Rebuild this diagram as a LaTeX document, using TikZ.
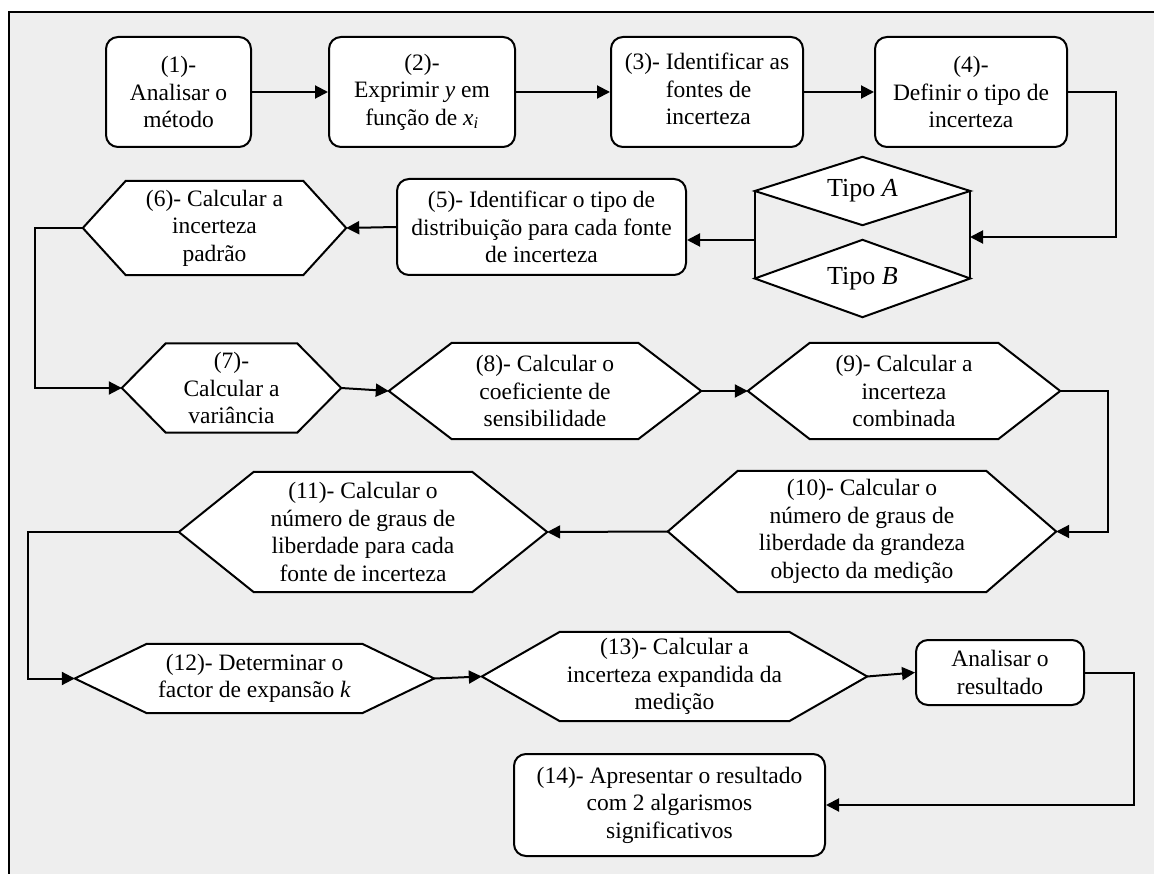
\documentclass[tikz,border=0pt]{standalone}
\usepackage{fontspec}
\setmainfont{Liberation Serif}
\usetikzlibrary{arrows.meta,backgrounds,calc}
\definecolor{panel}{HTML}{EEEEEE}
\tikzset{
  wire/.style={line width=2pt, draw=black},
  conn/.style={wire, -{Triangle[length=13pt,width=13pt]}},
  txt/.style={inner sep=0pt, align=center, font=\fontsize{23.5}{27.5}\selectfont},
  typetxt/.style={txt, font=\fontsize{26}{30}\selectfont},
  stepbox/.style={txt, wire, fill=white, rounded corners=12pt},
}
% hexagonal outline behind a text node: #1 node name, #2 horizontal inset of the corners
\newcommand\hexframe[2]{%
  \begin{scope}[on background layer]
    \draw[wire, fill=white] (#1.west) -- ([xshift=#2pt]#1.north west)
      -- ([xshift=-#2pt]#1.north east) -- (#1.east)
      -- ([xshift=-#2pt]#1.south east) -- ([xshift=#2pt]#1.south west) -- cycle;
  \end{scope}}
% rhombus behind a text node
\newcommand\rhombframe[1]{%
  \begin{scope}[on background layer]
    \draw[wire, fill=white] (#1.west) -- (#1.north) -- (#1.east) -- (#1.south) -- cycle;
  \end{scope}}
\begin{document}
\begin{tikzpicture}[x=1pt, y=-1pt]
\useasboundingbox (0,0) rectangle (1154,874);
\clip (0,0) rectangle (1154,874);
\begin{scope}[on background layer]
  \fill[white] (0,0) rectangle (1154,874);
  \fill[panel] (9,12) rectangle (1170,890);
  \draw[line width=2pt] (9,890) -- (9,12) -- (1170,12);
\end{scope}

% first row
\node[stepbox, minimum width=145pt, minimum height=110pt] (b1) at (178.5,92) {(1)-\\Analisar o\\método};
\node[stepbox, minimum width=186pt, minimum height=110pt] (b2) at (422,92) {(2)-\\Exprimir \textit{y} em\\função de \textit{x}\textsubscript{\textit{i}}};
\node[stepbox, minimum width=192pt, minimum height=110pt] (b3) at (707,92) {(3)-\ \begin{tabular}[t]{@{}l@{}}Identificar as\\fontes de\\incerteza\end{tabular}};
\node[stepbox, minimum width=192pt, minimum height=110pt] (b4) at (971,92) {(4)-\\Definir o tipo de\\incerteza};

% uncertainty type
\node[typetxt, minimum width=215pt, minimum height=68pt] (tA) at (862.5,191) {Tipo \textit{A}};
\rhombframe{tA}
\node[typetxt, minimum width=215pt, minimum height=77pt] (tB) at (862.5,278.5) {Tipo \textit{B}};
\rhombframe{tB}
\draw[wire] (tA.west) -- (tB.west);
\draw[wire] (tA.east) -- (tB.east);
\coordinate (tin) at (970,237);
\coordinate (tout) at (755,240);

% second row
\node[stepbox, minimum width=289pt, minimum height=96pt] (b5) at (541.5,227) {(5)- Identificar o tipo de\\distribuição para cada fonte\\de incerteza};
\node[txt, minimum width=263pt, minimum height=94pt] (h6) at (214.5,228) {(6)- Calcular a\\incerteza\\padrão};
\hexframe{h6}{43}

% third row
\node[txt, minimum width=219pt, minimum height=89pt] (h7) at (231.5,388) {(7)-\\Calcular a\\variância};
\hexframe{h7}{44}
\node[txt, minimum width=312pt, minimum height=96pt] (h8) at (545,391) {(8)- Calcular o\\coeficiente de\\sensibilidade};
\hexframe{h8}{63}
\node[txt, minimum width=312pt, minimum height=96pt] (h9) at (904,391) {(9)- Calcular a\\incerteza\\combinada};
\hexframe{h9}{62}

% fourth row
\node[txt, minimum width=388pt, minimum height=121pt] (h10) at (862,531.5) {(10)- Calcular o\\número de graus de\\liberdade da grandeza\\objecto da medição};
\hexframe{h10}{70}
\node[txt, minimum width=368pt, minimum height=120pt] (h11) at (363,532) {(11)- Calcular o\\número de graus de\\liberdade para cada\\fonte de incerteza};
\hexframe{h11}{75}

% fifth row
\node[txt, minimum width=359pt, minimum height=69pt] (h12) at (254.5,678.5) {(12)- Determinar o\\factor de expansão \textit{k}};
\hexframe{h12}{72}
\node[txt, minimum width=385pt, minimum height=89pt] (h13) at (674.5,676.5) {(13)- Calcular a\\incerteza expandida da\\medição};
\hexframe{h13}{78}
\node[stepbox, minimum width=168pt, minimum height=65pt] (ba) at (1000,672.5) {Analisar o\\resultado};
\node[stepbox, minimum width=311pt, minimum height=102pt] (b14) at (669.5,805) {(14)- Apresentar o resultado\\com 2 algarismos\\significativos};

% connectors
\draw[conn] (b1.east) -- (b2.west);
\draw[conn] (b2.east) -- (b3.west);
\draw[conn] (b3.east) -- (b4.west);
\draw[conn] (b4.east) -- ++(48,0) |- (tin);
\draw[conn] (tout) -- (tout -| b5.east);
\draw[conn] (b5.west) -- (h6.east);
\draw[conn] (h6.west) -- ++(-48,0) |- (h7.west);
\draw[conn] (h7.east) -- (h8.west);
\draw[conn] (h8.east) -- (h9.west);
\draw[conn] (h9.east) -- ++(48,0) |- (h10.east);
\draw[conn] (h10.west) -- (h11.east);
\draw[conn] (h11.west) -- ++(-151,0) |- (h12.west);
\draw[conn] (h12.east) -- (h13.west);
\draw[conn] (h13.east) -- (ba.west);
\draw[conn] (ba.east) -- ++(49,0) |- (b14.east);
\end{tikzpicture}
\end{document}
